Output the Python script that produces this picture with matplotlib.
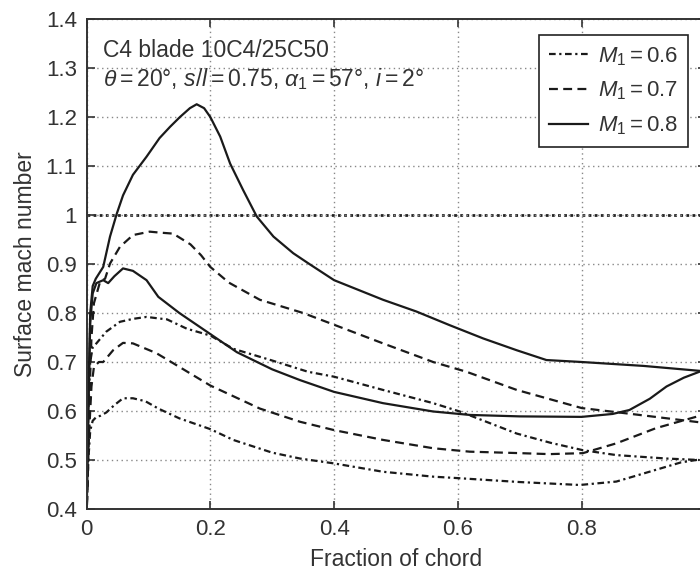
import matplotlib
matplotlib.use('Agg')
import matplotlib.pyplot as plt

plt.rcParams['font.family'] = ['Liberation Sans', 'DejaVu Sans']
plt.rcParams['mathtext.fontset'] = 'custom'
plt.rcParams['mathtext.rm'] = 'Liberation Sans'
plt.rcParams['mathtext.it'] = 'Liberation Sans:italic'

# M1 = 0.8 (solid)
m08_upper_x = [0.0, 0.003, 0.006, 0.01, 0.015, 0.019, 0.027, 0.038, 0.049, 0.059,
               0.075, 0.097, 0.118, 0.135, 0.151, 0.167, 0.178, 0.19, 0.2, 0.216,
               0.232, 0.253, 0.275, 0.302, 0.334, 0.36, 0.4, 0.479, 0.533, 0.587,
               0.641, 0.695, 0.743, 0.8, 0.9, 0.99]
m08_upper_y = [0.38, 0.62, 0.8, 0.855, 0.87, 0.878, 0.894, 0.956, 1.003, 1.04,
               1.082, 1.119, 1.157, 1.18, 1.2, 1.218, 1.226, 1.218, 1.2, 1.16,
               1.105, 1.051, 0.997, 0.956, 0.922, 0.9, 0.867, 0.827, 0.803, 0.775,
               0.748, 0.724, 0.704, 0.7, 0.692, 0.682]
m08_lower_x = [0.0, 0.003, 0.006, 0.01, 0.016, 0.027, 0.035, 0.045, 0.059, 0.075,
               0.097, 0.116, 0.15, 0.2, 0.243, 0.3, 0.345, 0.4, 0.479, 0.56,
               0.619, 0.7, 0.8, 0.85, 0.877, 0.91, 0.937, 0.965, 0.99]
m08_lower_y = [0.38, 0.6, 0.78, 0.84, 0.861, 0.867, 0.861, 0.875, 0.891, 0.886,
               0.867, 0.833, 0.8, 0.757, 0.72, 0.685, 0.663, 0.639, 0.616, 0.599,
               0.592, 0.589, 0.588, 0.594, 0.602, 0.625, 0.65, 0.668, 0.68]

# M1 = 0.7 (dashed)
m07_upper_x = [0.0, 0.004, 0.008, 0.012, 0.022, 0.03, 0.038, 0.054, 0.075, 0.102,
               0.119, 0.14, 0.168, 0.185, 0.2, 0.23, 0.28, 0.35, 0.4, 0.479,
               0.56, 0.614, 0.695, 0.8, 0.88, 0.99]
m07_upper_y = [0.38, 0.6, 0.75, 0.82, 0.864, 0.87, 0.901, 0.935, 0.959, 0.966,
               0.964, 0.962, 0.94, 0.918, 0.894, 0.862, 0.827, 0.8, 0.776, 0.738,
               0.7, 0.68, 0.643, 0.606, 0.594, 0.577]
m07_lower_x = [0.0, 0.004, 0.008, 0.012, 0.02, 0.027, 0.035, 0.043, 0.059, 0.075,
               0.113, 0.15, 0.2, 0.28, 0.345, 0.4, 0.479, 0.56, 0.619, 0.7,
               0.748, 0.802, 0.856, 0.92, 0.99]
m07_lower_y = [0.38, 0.55, 0.65, 0.69, 0.7, 0.7, 0.712, 0.724, 0.739, 0.738,
               0.718, 0.69, 0.652, 0.605, 0.578, 0.561, 0.541, 0.524, 0.517, 0.514,
               0.512, 0.514, 0.534, 0.565, 0.59]

# M1 = 0.6 (dash-dot)
m06_upper_x = [0.0, 0.003, 0.006, 0.01, 0.016, 0.032, 0.054, 0.075, 0.097, 0.116,
               0.13, 0.162, 0.2, 0.237, 0.3, 0.358, 0.4, 0.479, 0.56, 0.603,
               0.695, 0.75, 0.802, 0.856, 0.937, 0.99]
m06_upper_y = [0.38, 0.6, 0.7, 0.73, 0.738, 0.762, 0.782, 0.788, 0.792, 0.789,
               0.787, 0.768, 0.754, 0.727, 0.703, 0.68, 0.67, 0.643, 0.616, 0.599,
               0.554, 0.535, 0.52, 0.51, 0.503, 0.5]
m06_lower_x = [0.0, 0.003, 0.006, 0.01, 0.016, 0.022, 0.032, 0.045, 0.059, 0.075,
               0.095, 0.116, 0.15, 0.2, 0.237, 0.3, 0.345, 0.4, 0.479, 0.56,
               0.6, 0.7, 0.797, 0.856, 0.92, 0.96, 0.99]
m06_lower_y = [0.38, 0.5, 0.56, 0.58, 0.588, 0.59, 0.597, 0.612, 0.626, 0.626,
               0.62, 0.605, 0.585, 0.563, 0.541, 0.515, 0.503, 0.493, 0.476, 0.466,
               0.463, 0.455, 0.449, 0.456, 0.48, 0.495, 0.501]

x_ticks = [0, 0.2, 0.4, 0.6, 0.8]
x_tick_labels = ['0', '0.2', '0.4', '0.6', '0.8']
y_ticks = [0.4, 0.5, 0.6, 0.7, 0.8, 0.9, 1.0, 1.1, 1.2, 1.3, 1.4]
y_tick_labels = ['0.4', '0.5', '0.6', '0.7', '0.8', '0.9', '1', '1.1', '1.2', '1.3', '1.4']

fig = plt.figure(figsize=(7, 5.7), dpi=100)
ax = fig.add_axes([86.5 / 700, 61 / 570, 619 / 700, 490 / 570])

dashdot = (0, (3, 1.6, 1, 1.6))
dashed = (0, (4, 2.4))
lw = 1.6
ink = '#1a1a1a'
txt = '#333333'

ax.plot(m06_upper_x, m06_upper_y, color=ink, lw=lw, ls=dashdot,
        label=r'$M_1 = 0.6$')
ax.plot(m06_lower_x, m06_lower_y, color=ink, lw=lw, ls=dashdot)
ax.plot(m07_upper_x, m07_upper_y, color=ink, lw=lw, ls=dashed,
        label=r'$M_1 = 0.7$')
ax.plot(m07_lower_x, m07_lower_y, color=ink, lw=lw, ls=dashed)
ax.plot(m08_upper_x, m08_upper_y, color=ink, lw=lw, ls='-',
        label=r'$M_1 = 0.8$')
ax.plot(m08_lower_x, m08_lower_y, color=ink, lw=lw, ls='-')

ax.axhline(1.0, color='#222222', lw=2.0, ls=(0, (1, 1.2)), zorder=1)

ax.set_xlim(0, 1)
ax.set_ylim(0.4, 1.4)
ax.set_xticks(x_ticks)
ax.set_xticklabels(x_tick_labels)
ax.set_yticks(y_ticks)
ax.set_yticklabels(y_tick_labels)
ax.grid(True, color='#888888', ls=(0, (1, 2.5)), lw=1.0)
ax.tick_params(direction='in', length=6, width=1.2, top=True, right=True,
               labelsize=16, colors=txt, pad=7)
for sp in ax.spines.values():
    sp.set_color(txt)
    sp.set_linewidth(1.4)

ax.set_xlabel('Fraction of chord', fontsize=16.5, color=txt, labelpad=6)
ax.set_ylabel('Surface mach number', fontsize=16.5, color=txt, labelpad=6)

fig.text(103 / 700, 1 - 57 / 570, 'C4 blade 10C4/25C50', fontsize=16.5,
         color=txt, va='baseline')
fig.text(103 / 700, 1 - 86 / 570,
         r'$\theta = 20$°, $s/l = 0.75$, $\alpha_{\mathit{1}} = 57$°, $i = 2$°',
         fontsize=16.5, color=txt, va='baseline')

leg = ax.legend(loc='upper right', bbox_to_anchor=(688 / 700, 1 - 35 / 570),
                bbox_transform=fig.transFigure, borderaxespad=0, fontsize=16,
                fancybox=False, framealpha=1, edgecolor='#222222',
                handlelength=1.75, handletextpad=0.45, labelspacing=0.55,
                borderpad=0.45)
leg.get_frame().set_linewidth(1.2)
for t in leg.get_texts():
    t.set_color(txt)

fig.savefig('out.png', dpi=100)
